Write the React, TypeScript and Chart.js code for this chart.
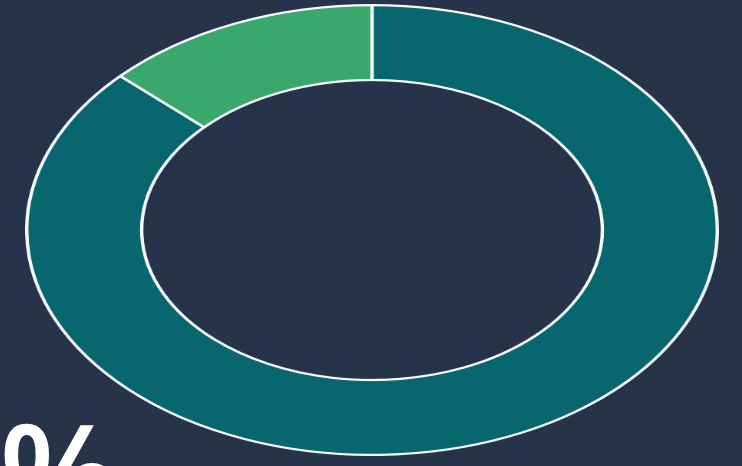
import React, { useEffect, useRef } from "react";
import { Chart, registerables } from "chart.js";

Chart.register(...registerables);

const categories: string[] = ["Rest", "Share"];
const values: number[] = [87, 13];
const sliceColors: string[] = ["#08666f", "#3aa86c"];
const headline = "13%";

export default function App() {
  const ref = useRef<HTMLCanvasElement | null>(null);

  useEffect(() => {
    if (!ref.current) return;
    const chart = new Chart(ref.current, {
      type: "doughnut",
      data: {
        labels: categories,
        datasets: [
          {
            data: values,
            backgroundColor: sliceColors,
            borderColor: "#f4fbfc",
            borderWidth: 2.2,
          },
        ],
      },
      options: {
        responsive: false,
        devicePixelRatio: 2,
        animation: false,
        cutout: "66.7%",
        rotation: 0,
        layout: { padding: 0 },
        plugins: {
          legend: { display: false },
          tooltip: { enabled: false },
          title: { display: false },
        },
      },
    });
    return () => chart.destroy();
  }, []);

  return (
    <div
      style={{
        position: "fixed",
        left: 0,
        top: 0,
        width: 742,
        height: 466,
        background: "#27334a",
        overflow: "hidden",
      }}
    >
      <canvas
        ref={ref}
        width={452}
        height={452}
        style={{
          position: "absolute",
          left: 25,
          top: 4,
          width: 694,
          height: 452,
          display: "block",
        }}
      />
      <div
        style={{
          position: "absolute",
          right: 742 - 120,
          top: 401,
          fontFamily: "'Open Sans', sans-serif",
          fontWeight: 600,
          fontSize: 140,
          lineHeight: "140px",
          color: "#ffffff",
          whiteSpace: "nowrap",
          textAlign: "right",
        }}
      >
        {headline}
      </div>
    </div>
  );
}
